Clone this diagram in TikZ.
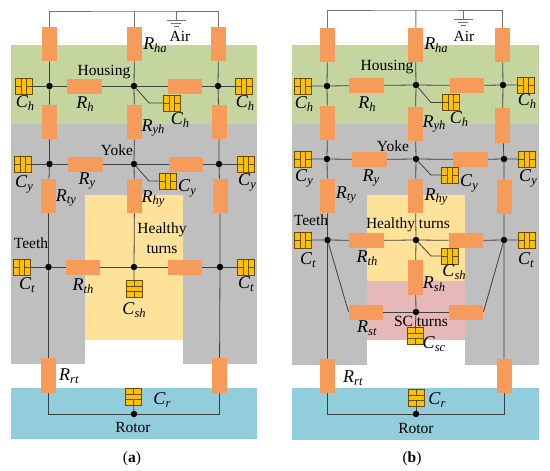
\documentclass[tikz,border=0pt]{standalone}
\usepackage{fontspec}
\setmainfont{Liberation Serif}
\usetikzlibrary{backgrounds}
\definecolor{mHousing}{RGB}{197,213,159}
\definecolor{mIron}{RGB}{191,191,191}
\definecolor{mHealthy}{RGB}{255,226,153}
\definecolor{mFault}{RGB}{230,184,183}
\definecolor{mRotor}{RGB}{146,205,220}
\definecolor{mRes}{RGB}{247,155,90}
\definecolor{mCap}{RGB}{255,192,0}
\definecolor{mWire}{RGB}{64,64,64}
\newcommand{\sym}[2]{\textit{#1}\raisebox{-0.35ex}{\fontsize{12.5}{13}\selectfont\textit{#2}}}
\tikzset{
  resv/.style={fill=mRes, minimum width=15pt, minimum height=34.5pt, inner sep=0pt},
  resh/.style={fill=mRes, minimum width=34.5pt, minimum height=15pt, inner sep=0pt},
  capbox/.style={draw=black!60!mCap, line width=0.7pt, fill=mCap, minimum width=17pt, minimum height=16pt, inner sep=0pt},
  capv/.style={capbox, path picture={
    \draw[black!60!mCap, line width=0.7pt] (-2.5,-8) -- (-2.5,8) (2.5,-8) -- (2.5,8) (-9,0) -- (-2.5,0) (2.5,0) -- (9,0);}},
  caph/.style={capbox, minimum width=16pt, minimum height=17pt, path picture={
    \draw[black!60!mCap, line width=0.7pt] (-8,-2.5) -- (8,-2.5) (-8,2.5) -- (8,2.5) (0,-9) -- (0,-2.5) (0,2.5) -- (0,9);}},
  dot/.style={circle, fill=black, minimum size=6.5pt, inner sep=0pt},
  wire/.style={mWire, line width=0.8pt},
  airwire/.style={black!55, line width=1pt},
  lab/.style={inner sep=0pt, font=\fontsize{15.5}{18}\selectfont},
  symb/.style={inner sep=0pt, font=\fontsize{18}{20}\selectfont}
}
\begin{document}
\begin{tikzpicture}[x=1pt, y=-1pt]
  \useasboundingbox (0,0) rectangle (550,471);
  % regions
  \begin{scope}[on background layer]
    \fill[mHousing] (11,45) rectangle (257,124);
    \fill[mIron] (11,124) rectangle (257,195);
    \fill[mIron] (11,195) rectangle (85,364);
    \fill[mIron] (183,195) rectangle (257,364);
    \fill[mHealthy] (85,195) rectangle (183,340);
    \fill[mRotor] (11,388) rectangle (257,439);
    \fill[mHousing] (292,45) rectangle (539,124);
    \fill[mIron] (292,124) rectangle (539,195);
    \fill[mIron] (292,195) rectangle (367,365);
    \fill[mIron] (465,195) rectangle (539,365);
    \fill[mHealthy] (367,195) rectangle (465,281);
    \fill[mFault] (367,281) rectangle (465,340);
    \fill[mRotor] (292,388) rectangle (539,440);
  \end{scope}

  % panel a
  \coordinate (aTopC) at (134.5,11);
  \coordinate (aGnd) at (176,11);
  \node[resv] (aHaL) at (49.5,44) {};
  \node[resv] (aHaC) at (134.5,44) {};
  \node[resv] (aHaR) at (218.5,44) {};
  \node[resv] (aYhL) at (49.5,122) {};
  \node[resv] (aYhC) at (134.5,122) {};
  \node[resv] (aYhR) at (219,122) {};
  \node[resv] (aTyL) at (48.5,196) {};
  \node[resv] (aTyC) at (134.5,196) {};
  \node[resv] (aTyR) at (220,196) {};
  \node[resv] (aRtL) at (48.5,375.5) {};
  \node[resv] (aRtR) at (219.5,375.5) {};
  \node[resh] (aHL) at (84.5,86) {};
  \node[resh] (aHR) at (185,86) {};
  \node[resh] (aYL) at (85.5,164) {};
  \node[resh] (aYR) at (186,164) {};
  \node[resh] (aThL) at (83,267) {};
  \node[resh] (aThR) at (185,267) {};
  \node[dot] (aD1) at (49.5,86) {};
  \node[dot] (aD2) at (134,86) {};
  \node[dot] (aD3) at (218,86) {};
  \node[dot] (aD4) at (49.5,164) {};
  \node[dot] (aD5) at (134,164) {};
  \node[dot] (aD6) at (219,164) {};
  \node[dot] (aD7) at (48.5,267) {};
  \node[dot] (aD8) at (134,267) {};
  \node[dot] (aD9) at (220,267) {};
  \node[dot] (aD10) at (134,414) {};
  \node[capv] (aCh1) at (24,86) {};
  \node[capv] (aCh2) at (172,103) {};
  \node[capv] (aCh3) at (244,86) {};
  \node[capv] (aCy1) at (23,164) {};
  \node[capv] (aCy2) at (168,181) {};
  \node[capv] (aCy3) at (246,164) {};
  \node[capv] (aCt1) at (22,267) {};
  \node[capv] (aCt2) at (246,267) {};
  \node[caph] (aCsh) at (134,289) {};
  \node[caph] (aCr) at (133.5,397) {};
  \begin{scope}[on background layer]
    \draw[airwire] (aHaL) |- (aTopC) -| (aHaR);
    \draw[airwire] (aTopC) -- (aHaC);
    \draw[airwire] (aGnd) -- ++(0,9) ++(-9.5,0) -- ++(19,0) ++(-14.5,3) -- ++(10,0) ++(-7.5,3) -- ++(5,0);
    \draw[wire] (aHaL) -- (aD1) -- (aYhL) -- (aD4) -- (aTyL) -- (aD7) -- (aRtL);
    \draw[wire] (aHaC) -- (aD2) -- (aYhC) -- (aD5) -- (aTyC) -- (aD8) -- (aCsh);
    \draw[wire] (aHaR) -- (aD3) -- (aYhR) -- (aD6) -- (aTyR) -- (aD9) -- (aRtR);
    \draw[wire] (aCh1) -- (aD1) -- (aHL) -- (aD2) -- (aHR) -- (aD3) -- (aCh3);
    \draw[wire] (aCy1) -- (aD4) -- (aYL) -- (aD5) -- (aYR) -- (aD6) -- (aCy3);
    \draw[wire] (aCt1) -- (aD7) -- (aThL) -- (aD8) -- (aThR) -- (aD9) -- (aCt2);
    \draw[wire] (aD2) -- (149,103) -- (aCh2);
    \draw[wire] (aD5) -- (149,181) -- (aCy2);
    \draw[wire] (aRtL) |- (aD10) -| (aRtR);
    \draw[wire] (aCr) -- (aD10);
  \end{scope}
  \node[lab] (aAir) at (180,36) {Air};
  \node[lab] (aHousing) at (104,72) {Housing};
  \node[lab] (aYoke) at (117,150) {Yoke};
  \node[lab] (aHealthy) at (162,230) {Healthy};
  \node[lab] (aTurns) at (162,249) {turns};
  \node[lab] (aTeeth) at (31,243) {Teeth};
  \node[lab] (aRotor) at (133,427) {Rotor};
  \node[symb] (aLha) at (155,45) {\sym{R}{ha}};
  \node[symb] (aLh) at (85,104) {\sym{R}{h}};
  \node[symb] (aLyh) at (153,128) {\sym{R}{yh}};
  \node[symb] (aLy) at (87,181) {\sym{R}{y}};
  \node[symb] (aLty) at (66,198) {\sym{R}{ty}};
  \node[symb] (aLhy) at (153,199) {\sym{R}{hy}};
  \node[symb] (aLth) at (83,286) {\sym{R}{th}};
  \node[symb] (aLrt) at (69,376) {\sym{R}{rt}};
  \node[symb] (aLc1) at (25,103) {\sym{C}{h}};
  \node[symb] (aLc2) at (180,120) {\sym{C}{h}};
  \node[symb] (aLc3) at (245,103) {\sym{C}{h}};
  \node[symb] (aLc4) at (24,184) {\sym{C}{y}};
  \node[symb] (aLc5) at (187,188) {\sym{C}{y}};
  \node[symb] (aLc6) at (247,182) {\sym{C}{y}};
  \node[symb] (aLc7) at (27,285) {\sym{C}{t}};
  \node[symb] (aLc8) at (246,284) {\sym{C}{t}};
  \node[symb] (aLc9) at (134,310) {\sym{C}{sh}};
  \node[symb] (aLc10) at (162,400) {\sym{C}{r}};
  \node[lab] (aCap) at (132,459) {(\textbf{a})};

  % panel b
  \coordinate (bTopC) at (416,10);
  \coordinate (bGnd) at (463,10);
  \node[resv] (bHaL) at (327.5,45) {};
  \node[resv] (bHaC) at (415.5,45) {};
  \node[resv] (bHaR) at (502.5,45) {};
  \node[resv] (bYhL) at (327.5,123) {};
  \node[resv] (bYhC) at (415.5,124) {};
  \node[resv] (bYhR) at (502.5,125.5) {};
  \node[resv] (bTyL) at (327.5,196) {};
  \node[resv] (bTyC) at (415.5,196) {};
  \node[resv] (bTyR) at (504,197) {};
  \node[resv] (bRsh) at (415.5,277.5) {};
  \node[resv] (bRtL) at (327.5,376) {};
  \node[resv] (bRtR) at (504,376) {};
  \node[resh] (bHL) at (366.5,85.5) {};
  \node[resh] (bHR) at (467,85.5) {};
  \node[resh] (bYL) at (369.5,159.5) {};
  \node[resh] (bYR) at (470.5,159.5) {};
  \node[resh] (bThL) at (366.5,240.5) {};
  \node[resh] (bThR) at (466,240.5) {};
  \node[resh] (bStL) at (366,312) {};
  \node[resh] (bStR) at (466,312) {};
  \node[dot] (bD1) at (327,86) {};
  \node[dot] (bD2) at (416,85) {};
  \node[dot] (bD3) at (503,85) {};
  \node[dot] (bD4) at (327,159) {};
  \node[dot] (bD5) at (416,159) {};
  \node[dot] (bD6) at (504,159) {};
  \node[dot] (bD7) at (327.5,240) {};
  \node[dot] (bD8) at (416,240) {};
  \node[dot] (bD9) at (504,240) {};
  \node[dot] (bD10) at (416,312) {};
  \node[dot] (bD11) at (416,414) {};
  \node[capv] (bCh1) at (303,86) {};
  \node[capv] (bCh2) at (451,102.5) {};
  \node[capv] (bCh3) at (526,85) {};
  \node[capv] (bCy1) at (303,159) {};
  \node[capv] (bCy2) at (450,175) {};
  \node[capv] (bCy3) at (527,159) {};
  \node[capv] (bCt1) at (303,240) {};
  \node[capv] (bCt2) at (450,256) {};
  \node[capv] (bCt3) at (527,240) {};
  \node[caph] (bCsc) at (415,336) {};
  \node[caph] (bCr) at (416,397.5) {};
  \begin{scope}[on background layer]
    \draw[airwire] (bHaL) |- (bTopC) -| (bHaR);
    \draw[airwire] (bTopC) -- (bHaC);
    \draw[airwire] (bGnd) -- ++(0,9) ++(-9.5,0) -- ++(19,0) ++(-14.5,3) -- ++(10,0) ++(-7.5,3) -- ++(5,0);
    \draw[wire] (bHaL) -- (bD1) -- (bYhL) -- (bD4) -- (bTyL) -- (bD7) -- (bRtL);
    \draw[wire] (bHaC) -- (bD2) -- (bYhC) -- (bD5) -- (bTyC) -- (bD8) -- (bRsh) -- (bD10) -- (bCsc);
    \draw[wire] (bHaR) -- (bD3) -- (bYhR) -- (bD6) -- (bTyR) -- (bD9) -- (bRtR);
    \draw[wire] (bCh1) -- (bD1) -- (bHL) -- (bD2) -- (bHR) -- (bD3) -- (bCh3);
    \draw[wire] (bCy1) -- (bD4) -- (bYL) -- (bD5) -- (bYR) -- (bD6) -- (bCy3);
    \draw[wire] (bCt1) -- (bD7) -- (bThL) -- (bD8) -- (bThR) -- (bD9) -- (bCt3);
    \draw[wire] (bStL) -- (bD10) -- (bStR);
    \draw[wire] (bD7) -- (bStL.west);
    \draw[wire] (bD9) -- (bStR.east);
    \draw[wire] (bD2) -- (431,102.5) -- (bCh2);
    \draw[wire] (bD5) -- (431,175) -- (bCy2);
    \draw[wire] (bD8) -- (431,256) -- (bCt2);
    \draw[wire] (bRtL) |- (bD11) -| (bRtR);
    \draw[wire] (bCr) -- (bD11);
  \end{scope}
  \node[lab] (bAir) at (464,36) {Air};
  \node[lab] (bHousing) at (387,67) {Housing};
  \node[lab] (bYoke) at (393,146) {Yoke};
  \node[lab] (bHealthy) at (408,225) {Healthy turns};
  \node[lab] (bTeeth) at (311,220) {Teeth};
  \node[lab] (bSc) at (421,321) {SC turns};
  \node[lab] (bRotor) at (416,428) {Rotor};
  \node[symb] (bLha) at (436,45) {\sym{R}{ha}};
  \node[symb] (bLh) at (367,104) {\sym{R}{h}};
  \node[symb] (bLyh) at (434,124) {\sym{R}{yh}};
  \node[symb] (bLy) at (371,178) {\sym{R}{y}};
  \node[symb] (bLty) at (346,195) {\sym{R}{ty}};
  \node[symb] (bLhy) at (436,197) {\sym{R}{hy}};
  \node[symb] (bLth) at (367,258) {\sym{R}{th}};
  \node[symb] (bLsh) at (434,284) {\sym{R}{sh}};
  \node[symb] (bLst) at (367,328) {\sym{R}{st}};
  \node[symb] (bLrt) at (353,378) {\sym{R}{rt}};
  \node[symb] (bLc1) at (304,104) {\sym{C}{h}};
  \node[symb] (bLc2) at (459,119) {\sym{C}{h}};
  \node[symb] (bLc3) at (527,101) {\sym{C}{h}};
  \node[symb] (bLc4) at (304,178) {\sym{C}{y}};
  \node[symb] (bLc5) at (469,183) {\sym{C}{y}};
  \node[symb] (bLc6) at (528,178) {\sym{C}{y}};
  \node[symb] (bLc7) at (308,260) {\sym{C}{t}};
  \node[symb] (bLc8) at (454,272) {\sym{C}{sh}};
  \node[symb] (bLc9) at (526,260) {\sym{C}{t}};
  \node[symb] (bLc10) at (434,344) {\sym{C}{sc}};
  \node[symb] (bLc11) at (437,400) {\sym{C}{r}};
  \node[lab] (bCap) at (412,459) {(\textbf{b})};
\end{tikzpicture}
\end{document}
